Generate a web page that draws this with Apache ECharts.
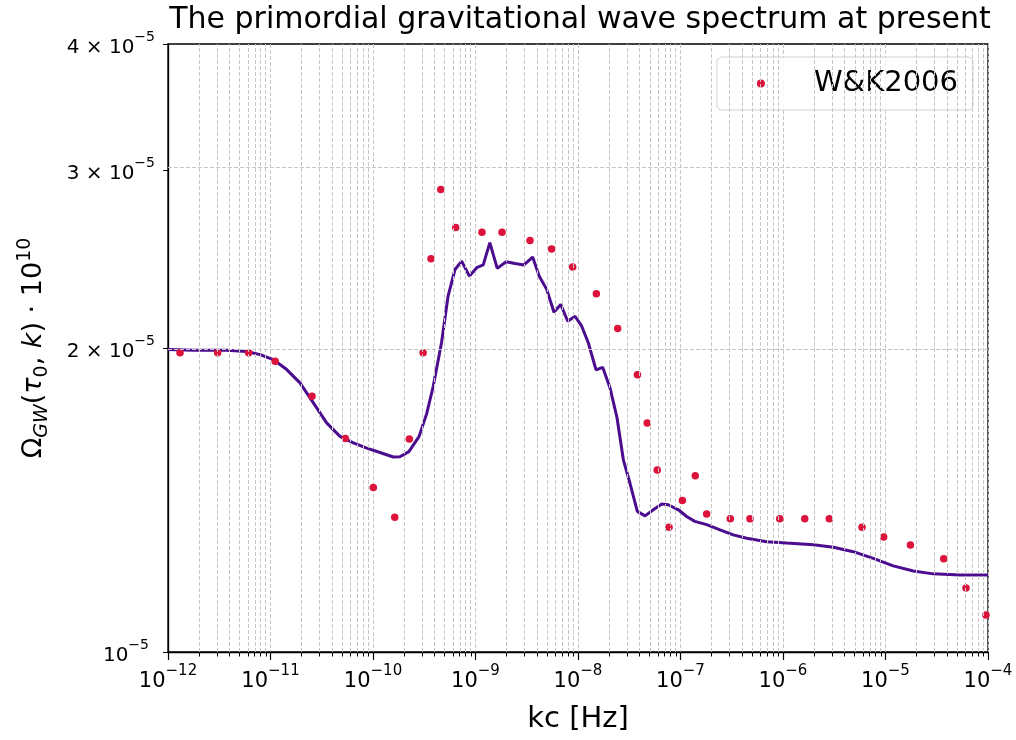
<!DOCTYPE html>
<html><head><meta charset="utf-8">
<script src="https://cdn.jsdelivr.net/npm/echarts@6/dist/echarts.min.js"></script>
<style>html,body{margin:0;padding:0;background:#fff}#c{width:1016px;height:740px}</style>
</head><body><div id="c"></div>
<script>
// Observed data points (W&K2006)
const wkFreq = [1.31e-12, 3.05e-12, 6.12e-12, 1.11e-11, 2.54e-11, 5.37e-11, 1.007e-10, 1.63e-10, 2.26e-10, 3.08e-10,
  3.68e-10, 4.58e-10, 6.41e-10, 1.156e-9, 1.815e-9, 3.40e-9, 5.53e-9, 8.87e-9, 1.51e-8, 2.44e-8,
  3.80e-8, 4.73e-8, 5.93e-8, 7.73e-8, 1.043e-7, 1.393e-7, 1.80e-7, 3.06e-7, 4.76e-7, 9.29e-7,
  1.63e-6, 2.83e-6, 5.90e-6, 9.60e-6, 1.75e-5, 3.70e-5, 6.10e-5, 9.55e-5];
const wkOmega = [1.979e-5, 1.979e-5, 1.979e-5, 1.941e-5, 1.792e-5, 1.627e-5, 1.455e-5, 1.360e-5, 1.625e-5, 1.978e-5,
  2.452e-5, 2.871e-5, 2.633e-5, 2.604e-5, 2.604e-5, 2.555e-5, 2.506e-5, 2.405e-5, 2.263e-5, 2.091e-5,
  1.882e-5, 1.686e-5, 1.514e-5, 1.329e-5, 1.413e-5, 1.495e-5, 1.370e-5, 1.355e-5, 1.355e-5, 1.355e-5,
  1.355e-5, 1.355e-5, 1.329e-5, 1.300e-5, 1.276e-5, 1.237e-5, 1.157e-5, 1.088e-5];

// Computed spectrum (line)
const modelFreq = [1.0e-12, 1.77e-12, 3.74e-12, 5.86e-12, 7.91e-12, 1.064e-11, 1.44e-11, 1.94e-11, 2.62e-11, 3.53e-11,
  4.76e-11, 6.43e-11, 8.69e-11, 1.17e-10, 1.58e-10, 1.83e-10, 2.24e-10, 2.81e-10, 3.34e-10, 3.87e-10,
  4.66e-10, 5.40e-10, 6.31e-10, 7.33e-10, 8.71e-10, 1.028e-9, 1.19e-9, 1.38e-9, 1.63e-9, 1.99e-9,
  2.43e-9, 2.97e-9, 3.61e-9, 4.19e-9, 4.95e-9, 5.83e-9, 6.78e-9, 7.94e-9, 9.35e-9, 1.087e-8,
  1.26e-8, 1.50e-8, 1.74e-8, 2.05e-8, 2.40e-8, 2.77e-8, 3.21e-8, 3.79e-8, 4.51e-8, 5.43e-8,
  6.56e-8, 7.60e-8, 9.53e-8, 1.148e-7, 1.38e-7, 1.80e-7, 2.43e-7, 3.27e-7, 4.43e-7, 6.93e-7,
  1.086e-6, 1.98e-6, 3.10e-6, 4.85e-6, 7.60e-6, 1.19e-5, 1.87e-5, 2.92e-5, 5.33e-5, 1.0e-4];
const modelOmega = [1.993e-5, 1.990e-5, 1.990e-5, 1.984e-5, 1.970e-5, 1.948e-5, 1.904e-5, 1.847e-5, 1.765e-5, 1.686e-5,
  1.635e-5, 1.611e-5, 1.592e-5, 1.576e-5, 1.560e-5, 1.561e-5, 1.579e-5, 1.634e-5, 1.722e-5, 1.833e-5,
  2.024e-5, 2.251e-5, 2.392e-5, 2.438e-5, 2.356e-5, 2.402e-5, 2.417e-5, 2.543e-5, 2.398e-5, 2.435e-5,
  2.425e-5, 2.417e-5, 2.461e-5, 2.356e-5, 2.286e-5, 2.170e-5, 2.209e-5, 2.126e-5, 2.150e-5, 2.102e-5,
  2.024e-5, 1.903e-5, 1.914e-5, 1.827e-5, 1.707e-5, 1.550e-5, 1.470e-5, 1.378e-5, 1.364e-5, 1.383e-5,
  1.401e-5, 1.399e-5, 1.383e-5, 1.362e-5, 1.347e-5, 1.337e-5, 1.321e-5, 1.306e-5, 1.296e-5, 1.286e-5,
  1.282e-5, 1.277e-5, 1.270e-5, 1.257e-5, 1.238e-5, 1.217e-5, 1.203e-5, 1.195e-5, 1.192e-5, 1.192e-5];

// Axis ticks
const xDecadeExponents = [-12, -11, -10, -9, -8, -7, -6, -5, -4];
const yTickValues = [1e-5, 2e-5, 3e-5, 4e-5];
const yGridValues = [2e-5, 3e-5];

const titleText = 'The primordial gravitational wave spectrum at present';
const xName = 'kc [Hz]';
const legendName = 'W&K2006';

const FONT = 'DejaVu Sans';
const lg = Math.log10;

// minor tick positions on x (2..9 x 10^n)
const xMinor = [];
for (let e = -12; e < -4; e++) for (let m = 2; m <= 9; m++) xMinor.push(lg(m * Math.pow(10, e)));

const gridStyle = { color: '#c6c6c6', type: [4, 2], width: 1 };

const xRich = {
  b: { fontSize: 21, fontFamily: FONT, color: '#000', lineHeight: 28, verticalAlign: 'bottom' },
  s: { fontSize: 15, fontFamily: FONT, color: '#000', lineHeight: 15, verticalAlign: 'top' }
};
const yRich = {
  b: { fontSize: 20, fontFamily: FONT, color: '#000', lineHeight: 27, verticalAlign: 'bottom' },
  s: { fontSize: 14, fontFamily: FONT, color: '#000', lineHeight: 14, verticalAlign: 'top' },
  pr: { width: 6 }
};

const chart = echarts.init(document.getElementById('c'), null, { renderer: 'canvas' });
chart.setOption({
  animation: false,
  backgroundColor: '#fff',
  title: {
    text: titleText, left: 575, top: 0, textAlign: 'center',
    textStyle: { fontFamily: FONT, fontSize: 30, fontWeight: 'normal', color: '#000' }
  },
  legend: {
    data: [legendName], right: 43, top: 57,
    padding: [12, 15, 12, 40], itemWidth: 96, itemHeight: 8, itemGap: 0,
    backgroundColor: 'rgba(255,255,255,0.8)', borderColor: '#d0d0d0', borderWidth: 1, borderRadius: 5,
    textStyle: { fontFamily: FONT, fontSize: 29, color: '#000' }
  },
  grid: {
    left: 168, right: 28, top: 44, bottom: 88,
    show: true, borderColor: '#000', borderWidth: 1.3, backgroundColor: 'transparent'
  },
  xAxis: [{
    type: 'value', min: -12, max: -4, interval: 1,
    name: xName, nameLocation: 'middle', nameGap: 53,
    nameTextStyle: { fontFamily: FONT, fontSize: 29, color: '#000' },
    axisLine: { show: true, lineStyle: { color: '#000', width: 1.3 } },
    axisTick: { show: true, length: 8, lineStyle: { color: '#000', width: 1.2 } },
    axisLabel: {
      margin: 12, color: '#000',
      formatter: v => '{b|10}{s|−' + Math.abs(Math.round(v)) + '}',
      rich: xRich
    },
    splitLine: { show: true, lineStyle: gridStyle }
  }, {
    type: 'value', min: -12, max: -4, position: 'bottom',
    axisLine: { show: false },
    axisLabel: { show: false },
    splitLine: { show: false },
    axisTick: { show: true, length: 4.5, customValues: xMinor, lineStyle: { color: '#000', width: 1 } }
  }],
  yAxis: {
    type: 'value', min: lg(1e-5), max: lg(4e-5),
    name: '{n|Ω}{sub|GW}{n|(}{i|τ}{sub0|0}{n|, }{i|k}{n|) · 10}{sup|10}',
    nameLocation: 'middle', nameGap: 116, nameRotate: 90,
    nameTextStyle: {
      color: '#000',
      rich: {
        n: { fontFamily: FONT, fontSize: 27, color: '#000', lineHeight: 36, verticalAlign: 'middle' },
        i: { fontFamily: FONT, fontSize: 27, fontStyle: 'italic', color: '#000', lineHeight: 36, verticalAlign: 'middle' },
        sub: { fontFamily: FONT, fontSize: 19, fontStyle: 'italic', color: '#000', lineHeight: 19, verticalAlign: 'bottom' },
        sub0: { fontFamily: FONT, fontSize: 19, color: '#000', lineHeight: 19, verticalAlign: 'bottom' },
        sup: { fontFamily: FONT, fontSize: 19, color: '#000', lineHeight: 19, verticalAlign: 'top' }
      }
    },
    axisLine: { show: true, lineStyle: { color: '#000', width: 1.3 } },
    axisTick: { show: true, length: 5, customValues: yTickValues.map(lg), lineStyle: { color: '#000', width: 1 } },
    axisLabel: {
      margin: 13, color: '#000',
      customValues: yTickValues.map(lg),
      formatter: v => {
        const m = Math.round(Math.pow(10, v) / 1e-5);
        if (m === 1) return '{b|10}{s|−5}{pr|}';
        return '{b|' + m + ' × 10}{s|−5}';
      },
      rich: yRich
    },
    splitLine: { show: false }
  },
  series: [{
    type: 'line', name: 'grid', silent: true, data: [], z: 1,
    markLine: {
      silent: true, symbol: ['none', 'none'], label: { show: false }, animation: false,
      lineStyle: gridStyle,
      emphasis: { disabled: true },
      data: xMinor.map(v => ({ xAxis: v })).concat(yGridValues.map(v => ({ yAxis: lg(v) })))
    }
  }, {
    type: 'line', name: 'model', showSymbol: false, symbol: 'none', z: 3,
    lineStyle: { color: '#4B0C8F', width: 3 },
    itemStyle: { color: '#4B0C8F' },
    data: modelFreq.map((f, i) => [lg(f), lg(modelOmega[i])])
  }, {
    type: 'scatter', name: legendName, symbol: 'circle', symbolSize: 7.5, z: 4,
    itemStyle: { color: '#DC143C', opacity: 1 },
    data: wkFreq.map((f, i) => [lg(f), lg(wkOmega[i])])
  }]
});
</script>
</body></html>
